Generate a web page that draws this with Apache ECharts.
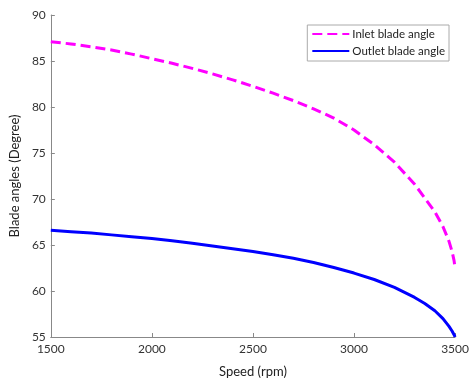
<!DOCTYPE html>
<html>
<head>
<meta charset="utf-8">
<script src="https://cdn.jsdelivr.net/npm/echarts@6/dist/echarts.min.js"></script>
<style>html,body{margin:0;padding:0;background:#fff;}#c{width:472px;height:383px;}</style>
</head>
<body>
<div id="c"></div>
<script>
const speed = [1500, 1600, 1700, 1800, 1900, 2000, 2100, 2200, 2300, 2400, 2500, 2600, 2700, 2800, 2900, 3000, 3100, 3200, 3300, 3350, 3400, 3440, 3470, 3485, 3495, 3500];
const inletAngle = [87.1, 86.85, 86.55, 86.2, 85.75, 85.25, 84.75, 84.2, 83.6, 82.95, 82.25, 81.5, 80.7, 79.8, 78.8, 77.5, 75.9, 74.0, 71.6, 70.1, 68.6, 67.0, 65.4, 64.3, 63.3, 62.5];
const outletAngle = [66.6, 66.45, 66.3, 66.1, 65.9, 65.7, 65.45, 65.2, 64.9, 64.6, 64.3, 63.95, 63.55, 63.1, 62.55, 61.95, 61.25, 60.4, 59.3, 58.65, 57.85, 57.0, 56.15, 55.65, 55.25, 55.0];
const seriesNames = ['Inlet blade angle', 'Outlet blade angle'];

const font = 'Lato, "Open Sans", sans-serif';
const chart = echarts.init(document.getElementById('c'));
const pair = (xs, ys) => xs.map((x, i) => [x, ys[i]]);
chart.setOption({
  animation: false,
  backgroundColor: '#fff',
  grid: { left: 48, right: 12, top: 15, bottom: 41 },
  legend: {
    orient: 'vertical', right: 23, top: 25,
    borderColor: '#aaa', borderWidth: 1, padding: [3, 4, 4, 4],
    itemGap: 5, itemWidth: 37, itemHeight: 12,
    itemStyle: { opacity: 0, borderWidth: 0 },
    textStyle: { fontFamily: font, fontSize: 11.5, color: '#222', padding: [0, 0, 0, -2] },
    data: seriesNames
  },
  xAxis: {
    type: 'value', min: 1500, max: 3500, interval: 500,
    name: 'Speed (rpm)', nameLocation: 'middle', nameGap: 28,
    nameTextStyle: { fontFamily: font, fontSize: 13, color: '#222' },
    axisLine: { show: true, lineStyle: { color: '#888', width: 1 } },
    axisTick: { show: true, inside: true, length: 4, lineStyle: { color: '#888' } },
    axisLabel: { fontFamily: font, fontSize: 12, color: '#333', margin: 6, formatter: v => String(v) },
    splitLine: { show: false }
  },
  yAxis: {
    type: 'value', min: 55, max: 90, interval: 5,
    name: 'Blade angles (Degree)', nameLocation: 'middle', nameGap: 19,
    nameTextStyle: { fontFamily: font, fontSize: 13, color: '#222' },
    axisLine: { show: true, lineStyle: { color: '#888', width: 1 } },
    axisTick: { show: true, inside: true, length: 4, lineStyle: { color: '#888' } },
    axisLabel: { fontFamily: font, fontSize: 12, color: '#333', margin: 5 },
    splitLine: { show: false }
  },
  series: [
    {
      name: seriesNames[0], type: 'line', data: pair(speed, inletAngle),
      showSymbol: false, symbol: 'none', smooth: false,
      lineStyle: { color: '#ff00ff', width: 3, type: [10, 5] },
      itemStyle: { color: '#ff00ff' }
    },
    {
      name: seriesNames[1], type: 'line', data: pair(speed, outletAngle),
      showSymbol: false, symbol: 'none', smooth: false,
      lineStyle: { color: '#0000ff', width: 3 },
      itemStyle: { color: '#0000ff' }
    }
  ]
});
</script>
</body>
</html>
